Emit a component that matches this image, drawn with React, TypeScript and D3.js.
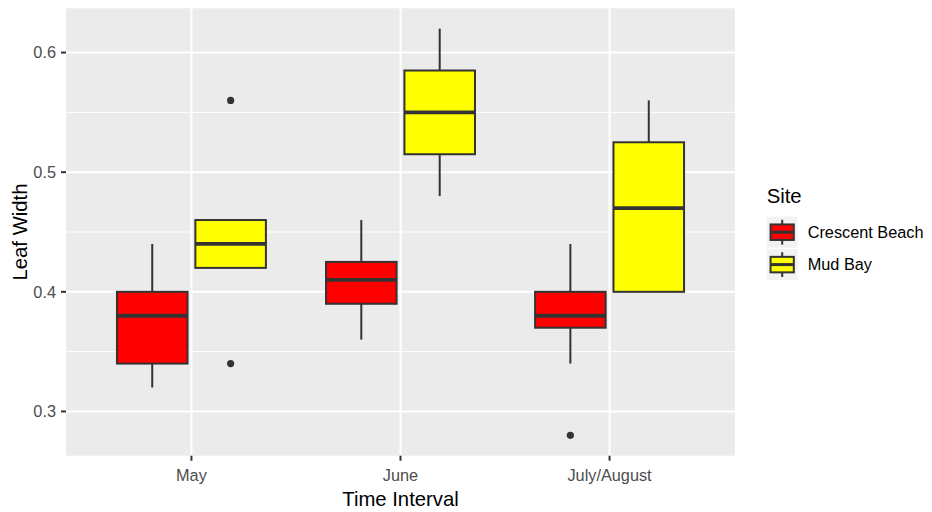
import { useEffect } from "react";
import * as d3 from "d3";

// categories and series
const intervals = ["May", "June", "July/August"];
const sites = ["Crescent Beach", "Mud Bay"];
const siteColors = ["#FF0000", "#FFFF00"];

// five-number summaries per interval: [lower whisker, q1, median, q3, upper whisker]
const crescentBeach = [
  [0.32, 0.34, 0.38, 0.4, 0.44],
  [0.36, 0.39, 0.41, 0.425, 0.46],
  [0.34, 0.37, 0.38, 0.4, 0.44],
];
const mudBay = [
  [0.42, 0.42, 0.44, 0.46, 0.46],
  [0.48, 0.515, 0.55, 0.585, 0.62],
  [0.4, 0.4, 0.47, 0.525, 0.56],
];
const crescentOutliers = [[], [], [0.28]];
const mudBayOutliers = [[0.34, 0.56], [], []];

const yTicks = [0.3, 0.4, 0.5, 0.6];
const yMinor = [0.35, 0.45, 0.55];

const W = 932;
const H = 512;
const panel = { left: 66, right: 735, top: 8.3, bottom: 455.7 };
const FONT = "'Liberation Sans', Arial, sans-serif";

export default function App() {
  useEffect(() => {
    document.body.style.margin = "0";
  }, []);

  const y = d3.scaleLinear().domain([0.263, 0.637]).range([panel.bottom, panel.top]);
  const unit = (panel.right - panel.left) / 3.2;
  const x = d3
    .scalePoint<string>()
    .domain(intervals)
    .range([panel.left + 0.6 * unit, panel.right - 0.6 * unit]);
  const dodge = d3
    .scaleBand<string>()
    .domain(sites)
    .range([-0.375 * unit, 0.375 * unit]);
  const boxW = dodge.bandwidth() * 0.9;

  const seriesStats = [crescentBeach, mudBay];
  const seriesOut = [crescentOutliers, mudBayOutliers];

  const stroke = "#333333";
  const keySize = 31;
  const keyX = 766.7;
  const keyY0 = 216.7;
  const keyStep = 32.4;

  return (
    <svg width={W} height={H} style={{ display: "block", fontFamily: FONT }}>
      <rect x={0} y={0} width={W} height={H} fill="#FFFFFF" />
      {/* panel */}
      <rect
        x={panel.left}
        y={panel.top}
        width={panel.right - panel.left}
        height={panel.bottom - panel.top}
        fill="#EBEBEB"
      />
      {yMinor.map((v) => (
        <line key={"mn" + v} x1={panel.left} x2={panel.right} y1={y(v)} y2={y(v)} stroke="#FFFFFF" strokeWidth={1} />
      ))}
      {yTicks.map((v) => (
        <line key={"mj" + v} x1={panel.left} x2={panel.right} y1={y(v)} y2={y(v)} stroke="#FFFFFF" strokeWidth={2} />
      ))}
      {intervals.map((c) => (
        <line key={"vx" + c} x1={x(c)} x2={x(c)} y1={panel.top} y2={panel.bottom} stroke="#FFFFFF" strokeWidth={2} />
      ))}

      {/* boxes */}
      {sites.map((s, si) =>
        intervals.map((c, ci) => {
          const [lo, q1, med, q3, hi] = seriesStats[si][ci];
          const cx = (x(c) as number) + (dodge(s) as number) + dodge.bandwidth() / 2;
          return (
            <g key={s + c}>
              <line x1={cx} x2={cx} y1={y(hi)} y2={y(q3)} stroke={stroke} strokeWidth={2} />
              <line x1={cx} x2={cx} y1={y(q1)} y2={y(lo)} stroke={stroke} strokeWidth={2} />
              <rect
                x={cx - boxW / 2}
                y={y(q3)}
                width={boxW}
                height={y(q1) - y(q3)}
                fill={siteColors[si]}
                stroke={stroke}
                strokeWidth={2}
              />
              <line x1={cx - boxW / 2} x2={cx + boxW / 2} y1={y(med)} y2={y(med)} stroke={stroke} strokeWidth={3.8} />
              {seriesOut[si][ci].map((o, oi) => (
                <circle key={oi} cx={cx} cy={y(o)} r={3.6} fill={stroke} />
              ))}
            </g>
          );
        })
      )}

      {/* y axis */}
      {yTicks.map((v) => (
        <g key={"yt" + v}>
          <line x1={panel.left - 5} x2={panel.left} y1={y(v)} y2={y(v)} stroke={stroke} strokeWidth={2} />
          <text x={panel.left - 10} y={y(v) + 5.8} textAnchor="end" fontSize={16.3} fill="#4D4D4D">
            {d3.format(".1f")(v)}
          </text>
        </g>
      ))}
      {/* x axis */}
      {intervals.map((c) => (
        <g key={"xt" + c}>
          <line x1={x(c)} x2={x(c)} y1={panel.bottom} y2={panel.bottom + 5} stroke={stroke} strokeWidth={2} />
          <text x={x(c)} y={481} textAnchor="middle" fontSize={16.3} fill="#4D4D4D">
            {c}
          </text>
        </g>
      ))}
      <text x={(panel.left + panel.right) / 2} y={506} textAnchor="middle" fontSize={20.3} fill="#000000">
        Time Interval
      </text>
      <text
        transform={`translate(27,${(panel.top + panel.bottom) / 2}) rotate(-90)`}
        textAnchor="middle"
        fontSize={20.3}
        fill="#000000"
      >
        Leaf Width
      </text>

      {/* legend */}
      <text x={keyX} y={203} fontSize={20.3} fill="#000000">
        Site
      </text>
      {sites.map((s, i) => {
        const ky = keyY0 + i * keyStep;
        const kcx = keyX + keySize / 2;
        return (
          <g key={"lg" + s}>
            <rect x={keyX} y={ky} width={keySize} height={keySize} fill="#F2F2F2" />
            <line x1={kcx} x2={kcx} y1={ky + keySize * 0.1} y2={ky + keySize * 0.9} stroke={stroke} strokeWidth={2} />
            <rect
              x={keyX + keySize * 0.125}
              y={ky + keySize * 0.25}
              width={keySize * 0.75}
              height={keySize * 0.5}
              fill={siteColors[i]}
              stroke={stroke}
              strokeWidth={2}
            />
            <line
              x1={keyX + keySize * 0.125}
              x2={keyX + keySize * 0.875}
              y1={ky + keySize / 2}
              y2={ky + keySize / 2}
              stroke={stroke}
              strokeWidth={3}
            />
            <text x={807.7} y={ky + keySize / 2 + 5.8} fontSize={16.3} fill="#000000">
              {s}
            </text>
          </g>
        );
      })}
    </svg>
  );
}
